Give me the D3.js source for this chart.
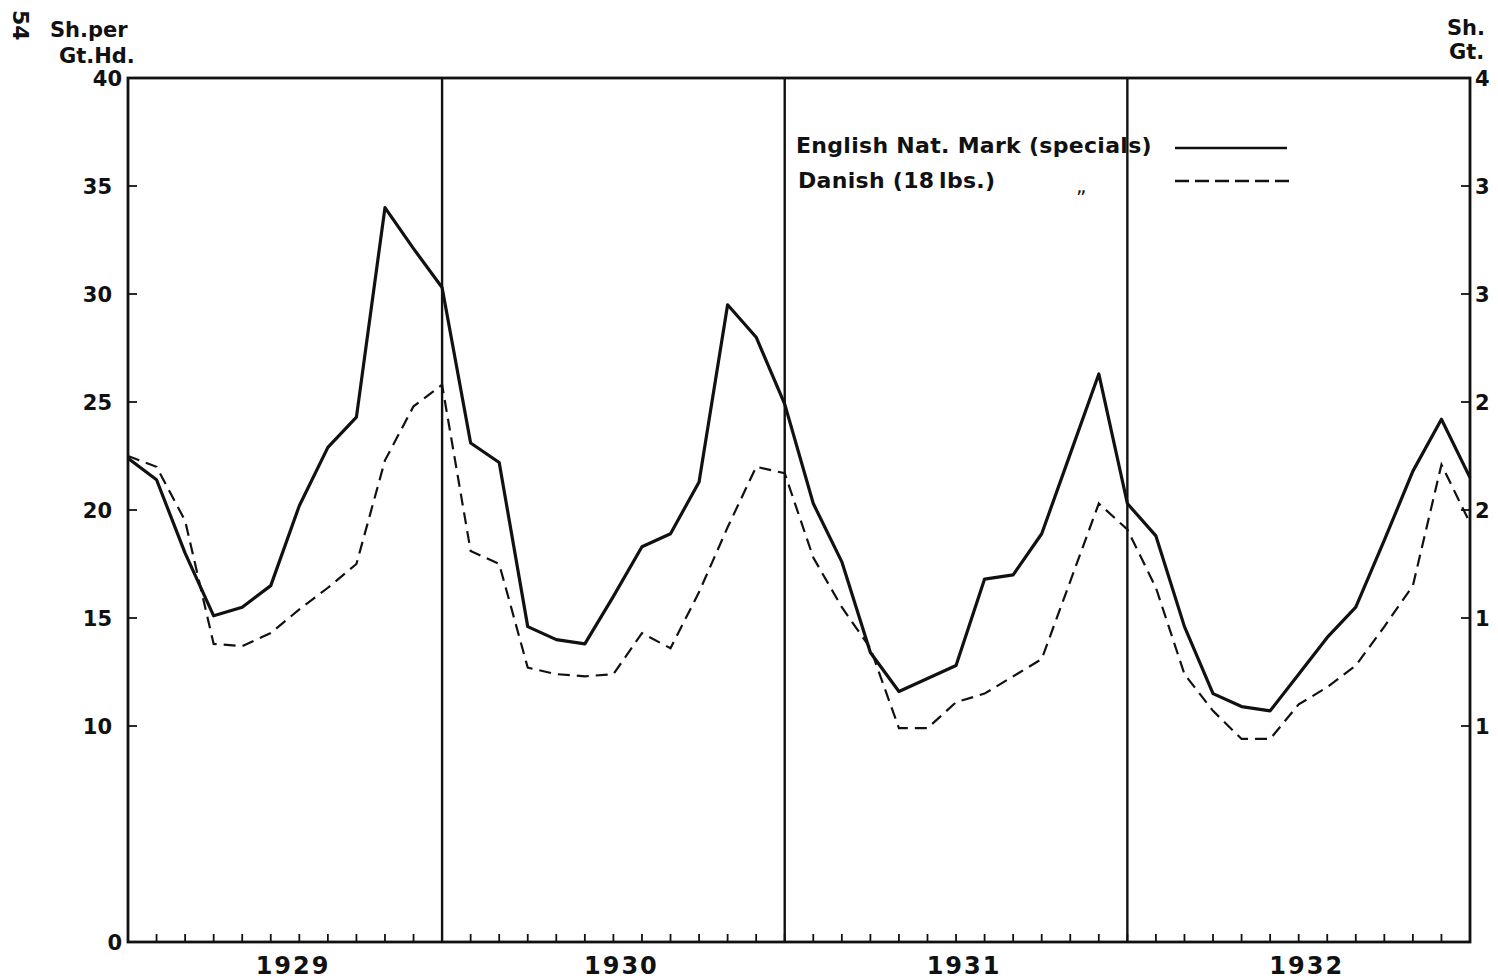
<!DOCTYPE html>
<html>
<head>
<meta charset="utf-8">
<script src="https://cdn.jsdelivr.net/npm/d3@7"></script>
<style>
  body { margin: 0; background: #fff; }
  svg { display: block; }
  text { font-family: "DejaVu Sans", sans-serif; fill: #111; font-weight: bold; }
</style>
</head>
<body>
<div id="chart"></div>
<script>
// valeurs (une valeur par mois, janv. 1929 -> dec. 1932)
const years = [1929, 1930, 1931, 1932];
const yTicks = [0, 10, 15, 20, 25, 30, 35, 40];
// a droite, l'image est coupee : seul le premier chiffre reste visible
const rightLabels = ["1", "1", "2", "2", "3", "3", "4"];

const english = [
  22.4, 21.4, 18.0, 15.1, 15.5, 16.5, 20.2, 22.9, 24.3, 34.0, 32.1, 30.3,
  23.1, 22.2, 14.6, 14.0, 13.8, 16.0, 18.3, 18.9, 21.3, 29.5, 28.0, 24.9,
  20.3, 17.6, 13.4, 11.6, 12.2, 12.8, 16.8, 17.0, 18.9, 22.6, 26.3, 20.3,
  18.8, 14.6, 11.5, 10.9, 10.7, 12.4, 14.1, 15.5, 18.6, 21.8, 24.2, 21.5
];
const danish = [
  22.5, 22.0, 19.5, 13.8, 13.7, 14.3, 15.4, 16.4, 17.5, 22.3, 24.8, 25.8,
  18.1, 17.5, 12.7, 12.4, 12.3, 12.4, 14.3, 13.6, 16.2, 19.2, 22.0, 21.7,
  17.8, 15.5, 13.6, 9.9, 9.9, 11.1, 11.5, 12.3, 13.1, 16.7, 20.3, 19.1,
  16.4, 12.4, 10.7, 9.4, 9.4, 11.0, 11.8, 12.8, 14.6, 16.5, 22.1, 19.4
];
const seriesNames = ["English Nat. Mark (specials)", "Danish (18\u2009lbs.)"];

const W = 1498, H = 980;
const plot = { left: 128, right: 1470, top: 78, bottom: 942 };

const svg = d3.select("#chart")
  .append("svg")
  .attr("width", W)
  .attr("height", H);

const x = d3.scaleLinear().domain([0, english.length - 1]).range([plot.left, plot.right]);
const y = d3.scaleLinear().domain([0, 40]).range([plot.bottom, plot.top]);

// petits traits des mois
svg.append("g")
  .selectAll("line")
  .data(d3.range(english.length))
  .join("line")
  .attr("x1", d => x(d)).attr("x2", d => x(d))
  .attr("y1", plot.bottom).attr("y2", plot.bottom - 8)
  .attr("stroke", "#111").attr("stroke-width", 1.8);

// separations entre les annees
svg.append("g")
  .selectAll("line")
  .data(years.slice(0, -1))
  .join("line")
  .attr("x1", (d, i) => x(11 + i * 12)).attr("x2", (d, i) => x(11 + i * 12))
  .attr("y1", plot.top).attr("y2", plot.bottom)
  .attr("stroke", "#111").attr("stroke-width", 2.4);

// cadre
svg.append("rect")
  .attr("x", plot.left).attr("y", plot.top)
  .attr("width", plot.right - plot.left).attr("height", plot.bottom - plot.top)
  .attr("fill", "none").attr("stroke", "#111").attr("stroke-width", 2.8);

// axe gauche
const yl = svg.append("g");
yl.selectAll("line")
  .data(yTicks.filter(d => d > 0 && d < 40))
  .join("line")
  .attr("x1", plot.left).attr("x2", plot.left + 9)
  .attr("y1", d => y(d)).attr("y2", d => y(d))
  .attr("stroke", "#111").attr("stroke-width", 1.8);
yl.selectAll("text")
  .data(yTicks)
  .join("text")
  .attr("x", d => (d === 0 || d === 40) ? plot.left - 6 : plot.left - 16)
  .attr("y", d => y(d) + 8)
  .attr("text-anchor", "end")
  .style("font-size", "21px")
  .text(d => d);

// axe droit
const yr = svg.append("g");
yr.selectAll("line")
  .data(yTicks.filter(d => d > 0 && d < 40))
  .join("line")
  .attr("x1", plot.right - 9).attr("x2", plot.right)
  .attr("y1", d => y(d)).attr("y2", d => y(d))
  .attr("stroke", "#111").attr("stroke-width", 1.8);
yr.selectAll("text")
  .data(yTicks.filter(d => d > 0))
  .join("text")
  .attr("x", plot.right + 5)
  .attr("y", d => y(d) + 8)
  .style("font-size", "21px")
  .text((d, i) => rightLabels[i]);

// unites
svg.append("text").attr("x", 50).attr("y", 37)
  .style("font-size", "21px").text("Sh.per");
svg.append("text").attr("x", 59).attr("y", 63)
  .style("font-size", "21px").text("Gt.Hd.");
svg.append("text").attr("x", 1447).attr("y", 35)
  .style("font-size", "21px").text("Sh.");
svg.append("text").attr("x", 1449).attr("y", 59)
  .style("font-size", "21px").text("Gt.");

// numero de page
svg.append("text")
  .attr("transform", "translate(13,10) rotate(90)")
  .style("font-size", "22px")
  .text("54");

// annees
svg.append("g")
  .selectAll("text")
  .data(years)
  .join("text")
  .attr("x", (d, i) => (x(Math.max(0, i * 12 - 1)) + x(i * 12 + 11)) / 2 + 8)
  .attr("y", 974)
  .attr("text-anchor", "middle")
  .style("font-size", "24px")
  .style("letter-spacing", "2px")
  .text(d => d);

// courbes
const line = d3.line()
  .x((d, i) => x(i))
  .y(d => y(d));

svg.append("path")
  .datum(english)
  .attr("d", line)
  .attr("fill", "none")
  .attr("stroke", "#111")
  .attr("stroke-width", 3.2)
  .attr("stroke-linejoin", "round");

svg.append("path")
  .datum(danish)
  .attr("d", line)
  .attr("fill", "none")
  .attr("stroke", "#111")
  .attr("stroke-width", 2.2)
  .attr("stroke-dasharray", "12,7");

// legende
svg.append("text").attr("x", 796).attr("y", 153)
  .style("font-size", "22px").style("letter-spacing", "0.3px").text(seriesNames[0]);
svg.append("text").attr("x", 798).attr("y", 188)
  .style("font-size", "22px").style("letter-spacing", "0.3px").text(seriesNames[1]);
svg.append("text").attr("x", 1076).attr("y", 193)
  .style("font-size", "20px").style("font-weight", "normal").text("\u201E");
svg.append("line")
  .attr("x1", 1175).attr("x2", 1287).attr("y1", 148).attr("y2", 148)
  .attr("stroke", "#111").attr("stroke-width", 2.6);
svg.append("line")
  .attr("x1", 1175).attr("x2", 1293).attr("y1", 181).attr("y2", 181)
  .attr("stroke", "#111").attr("stroke-width", 2.6)
  .attr("stroke-dasharray", "14,6");
</script>
</body>
</html>
